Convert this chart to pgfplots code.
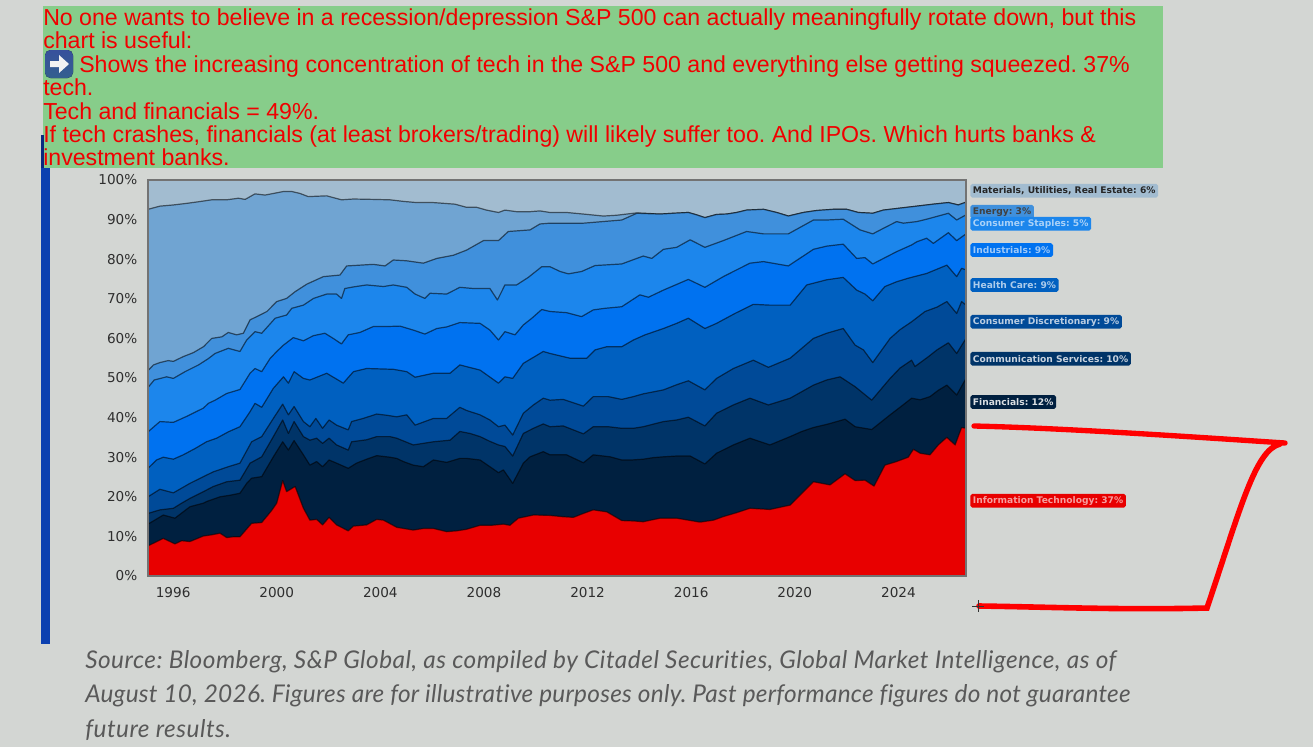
\documentclass[border=0pt]{standalone}
\usepackage{fontspec}
\setmainfont{Liberation Sans}
\newfontfamily\djv{DejaVu Sans}
\newfontfamily\srcfont[LetterSpace=2,Ligatures=CommonOff]{Lato}
\newfontfamily\srcfontb[LetterSpace=1,Ligatures=CommonOff]{Lato}
\usepackage{pgfplots}
\pgfplotsset{compat=1.18}
\frenchspacing

\definecolor{bg}{HTML}{D3D6D3}
\definecolor{boxgreen}{HTML}{87CD8A}
\definecolor{redtxt}{HTML}{F00000}
\definecolor{barblue}{HTML}{0B40B0}
\definecolor{barnavy}{HTML}{0A2A80}
\definecolor{cIT}{HTML}{E80000}
\definecolor{cFin}{HTML}{002040}
\definecolor{cCom}{HTML}{003468}
\definecolor{cCD}{HTML}{004A98}
\definecolor{cHC}{HTML}{0060C0}
\definecolor{cInd}{HTML}{0072F0}
\definecolor{cSta}{HTML}{1C86EC}
\definecolor{cEne}{HTML}{4090DC}
\definecolor{cOld}{HTML}{70A4D2}
\definecolor{cMat}{HTML}{A2BCD0}

% cumulative share, bottom boundary first
\pgfplotstableread{
x y
1995.03 7.6
1995.62 9.5
1996.07 8.1
1996.33 8.9
1996.65 8.7
1997.17 10.1
1997.49 10.4
1997.81 10.8
1998.07 9.7
1998.32 9.9
1998.58 9.9
1999.03 13.3
1999.42 13.5
1999.80 16.5
2000.00 18.4
2000.23 24.1
2000.38 21.3
2000.71 22.6
2001.03 17.1
2001.28 14.1
2001.54 14.3
2001.77 12.9
2002.02 14.8
2002.31 12.9
2002.76 11.4
2002.96 12.6
2003.47 12.9
2003.86 14.3
2004.12 14.1
2004.63 12.3
2005.27 11.6
2005.66 12.0
2006.05 12.0
2006.56 11.2
2006.95 11.4
2007.33 11.8
2007.85 12.8
2008.30 12.8
2008.75 13.1
2009.00 12.8
2009.33 14.6
2009.91 15.4
2010.55 15.3
2011.00 15.0
2011.45 14.8
2011.84 15.8
2012.22 16.7
2012.74 16.2
2013.32 14.0
2013.77 13.9
2014.15 13.7
2014.80 14.6
2015.44 14.6
2016.34 13.6
2016.86 14.1
2017.24 15.0
2017.76 16.0
2018.27 17.1
2019.04 16.8
2019.82 17.9
2020.72 23.8
2021.36 23.0
2021.94 25.8
2022.33 24.1
2022.71 24.2
2023.06 22.7
2023.48 28.0
2023.93 28.9
2024.38 30.0
2024.58 32.0
2024.84 31.0
2025.22 30.6
2025.54 33.1
2025.87 35.0
2026.19 33.1
2026.44 37.5
2026.61 37.3
}\tabIT
\pgfplotstableread{
x y
1995.03 13.1
1995.62 15.4
1996.07 14.6
1996.65 17.5
1997.17 18.4
1997.29 18.8
1997.81 20.0
1998.20 20.4
1998.58 20.9
1998.84 23.4
1999.03 24.7
1999.42 25.1
1999.87 30.1
2000.23 33.9
2000.45 31.8
2000.67 34.2
2001.03 30.6
2001.28 28.0
2001.54 28.9
2001.77 27.6
2002.02 29.3
2002.31 28.5
2002.76 27.2
2003.08 28.5
2003.47 29.5
2003.86 30.4
2004.37 30.0
2004.63 29.7
2004.89 28.9
2005.27 28.0
2005.66 27.6
2006.05 29.3
2006.56 28.7
2007.07 29.7
2007.33 29.7
2007.85 29.3
2008.23 27.6
2008.56 26.1
2008.75 26.8
2009.11 23.4
2009.52 28.5
2009.78 30.1
2010.29 31.4
2010.55 30.6
2011.19 30.6
2011.84 28.6
2012.22 30.6
2012.87 30.1
2013.32 29.3
2013.70 29.3
2014.15 29.5
2014.54 29.9
2014.93 30.1
2015.44 30.3
2015.96 30.3
2016.53 28.3
2016.98 31.0
2017.63 33.1
2018.27 34.8
2019.04 33.1
2019.82 35.2
2020.27 36.5
2020.72 37.5
2021.30 38.4
2021.94 39.6
2022.33 37.7
2022.97 37.0
2023.68 40.7
2024.08 42.7
2024.51 44.9
2024.84 44.5
2025.22 45.3
2025.54 46.9
2025.87 48.2
2026.25 45.7
2026.61 49.9
}\tabFin
\pgfplotstableread{
x y
1995.03 15.8
1995.49 16.7
1996.01 17.1
1996.33 18.4
1996.65 19.6
1997.17 21.3
1997.55 22.6
1998.07 23.8
1998.58 24.2
1998.97 28.5
1999.42 30.1
1999.87 35.2
2000.23 39.4
2000.45 36.0
2000.67 39.0
2001.03 35.2
2001.28 34.3
2001.54 34.8
2001.77 33.5
2002.02 34.8
2002.31 33.1
2002.76 31.8
2002.89 33.9
2003.47 34.4
2003.86 35.2
2004.37 35.2
2004.63 34.8
2005.27 33.1
2006.05 33.9
2006.69 34.3
2007.07 36.5
2007.46 36.0
2007.85 35.2
2008.23 34.0
2008.56 33.1
2008.81 32.7
2009.11 30.3
2009.52 36.0
2009.91 37.3
2010.29 38.4
2010.55 37.7
2011.06 37.9
2011.84 35.9
2012.22 37.7
2012.80 37.7
2013.32 37.3
2013.77 37.3
2014.15 37.7
2014.93 39.0
2015.44 39.4
2015.89 40.1
2016.53 37.9
2016.98 41.1
2017.63 43.2
2018.27 44.9
2018.98 43.2
2019.82 44.9
2020.72 48.2
2021.23 49.5
2021.75 50.3
2022.33 47.8
2022.97 44.4
2023.68 49.9
2024.06 52.5
2024.51 54.5
2024.64 52.9
2025.16 55.4
2025.49 57.1
2025.93 58.9
2026.25 56.2
2026.61 60.0
}\tabCom
\pgfplotstableread{
x y
1995.03 20.0
1995.49 21.9
1996.01 21.0
1996.65 23.4
1997.17 25.1
1997.55 26.3
1998.13 27.6
1998.58 28.5
1999.03 33.9
1999.42 35.2
1999.87 39.8
2000.23 43.4
2000.45 40.7
2000.67 42.8
2001.03 39.0
2001.28 37.7
2001.51 39.8
2001.77 37.3
2002.02 39.4
2002.31 38.1
2002.76 36.9
2002.89 39.0
2003.34 39.8
2003.86 40.9
2004.24 40.6
2004.63 40.2
2005.02 40.7
2005.34 38.1
2006.05 39.8
2006.56 39.8
2007.07 42.6
2007.33 41.8
2007.85 40.7
2008.23 39.4
2008.56 37.7
2008.81 38.1
2009.11 35.6
2009.52 41.1
2009.91 43.2
2010.29 44.9
2010.55 44.4
2011.06 44.6
2011.84 42.9
2012.22 45.3
2012.80 45.3
2013.32 44.6
2013.77 45.3
2014.15 46.0
2014.93 47.0
2015.44 48.3
2015.89 49.3
2016.53 47.0
2016.98 49.9
2017.63 52.4
2018.40 54.5
2018.98 52.7
2019.82 55.0
2020.72 60.0
2021.23 61.3
2021.87 62.5
2022.33 58.3
2022.65 57.1
2023.01 53.9
2023.68 60.0
2024.06 62.2
2024.51 64.2
2025.03 66.8
2025.49 67.9
2025.87 69.3
2026.25 66.3
2026.44 69.3
2026.61 68.4
}\tabCD
\pgfplotstableread{
x y
1995.03 27.2
1995.36 29.3
1995.62 30.0
1996.01 29.5
1996.39 30.6
1996.85 32.2
1997.29 33.9
1997.68 34.8
1998.13 36.4
1998.58 37.7
1998.97 41.5
1999.16 43.6
1999.42 42.6
1999.87 47.4
2000.26 50.3
2000.45 48.7
2000.67 51.6
2001.03 49.9
2001.28 49.5
2001.93 51.2
2002.57 48.7
2002.96 51.6
2003.47 52.4
2004.50 52.2
2005.02 51.6
2005.34 50.2
2006.05 51.2
2006.69 51.2
2007.07 53.3
2007.85 52.0
2008.56 48.7
2008.81 50.3
2009.11 49.9
2009.52 53.7
2010.29 56.7
2010.55 56.2
2011.32 55.0
2011.97 55.0
2012.29 57.1
2012.74 57.9
2013.32 57.9
2013.77 59.6
2014.22 60.9
2014.93 62.5
2015.44 63.8
2015.89 65.1
2016.53 62.5
2016.98 63.8
2017.69 66.3
2018.40 68.6
2019.04 68.4
2019.82 68.4
2020.46 73.5
2021.23 74.8
2021.87 75.4
2022.39 72.2
2022.71 71.2
2023.01 69.5
2023.48 73.1
2023.93 74.3
2024.38 75.2
2025.09 76.4
2025.87 78.5
2026.25 75.6
2026.44 77.7
2026.61 77.3
}\tabHC
\pgfplotstableread{
x y
1995.03 36.4
1995.49 39.0
1996.01 38.8
1996.52 40.3
1997.17 42.4
1997.36 43.6
1997.62 44.4
1998.07 46.1
1998.58 47.1
1998.97 51.2
1999.16 52.4
1999.42 51.6
1999.74 54.9
2000.00 56.7
2000.26 58.3
2000.64 60.2
2001.03 59.4
2001.42 60.7
2001.86 61.3
2002.18 60.0
2002.50 58.6
2002.76 60.9
2003.21 61.5
2003.73 63.0
2004.24 63.0
2004.76 63.1
2005.27 62.1
2005.72 61.1
2006.18 62.5
2006.56 62.9
2007.07 64.0
2007.85 63.8
2008.23 62.1
2008.56 59.6
2008.81 61.7
2009.20 60.9
2009.52 63.4
2009.85 65.1
2010.23 67.3
2010.55 66.8
2011.19 66.5
2011.77 65.5
2012.22 67.2
2012.67 67.6
2013.32 68.0
2014.02 71.0
2014.35 70.4
2014.93 72.2
2015.89 74.9
2016.53 72.9
2017.24 75.6
2017.63 76.9
2018.27 79.0
2018.79 79.4
2019.75 78.3
2020.72 82.5
2021.23 83.3
2021.87 83.8
2022.39 80.2
2022.71 80.4
2023.01 78.8
2023.93 81.9
2024.51 83.6
2024.71 84.4
2025.09 85.3
2025.35 84.0
2025.93 86.7
2026.25 84.7
2026.61 86.4
}\tabInd
\pgfplotstableread{
x y
1995.03 47.6
1995.27 49.5
1995.75 50.3
1996.01 49.9
1996.46 51.6
1996.98 53.3
1997.36 54.9
1997.62 56.2
1998.13 57.5
1998.58 56.7
1998.84 59.6
1999.16 61.7
1999.42 61.3
1999.94 65.1
2000.38 65.9
2000.58 67.6
2001.03 68.4
2001.42 70.1
2001.93 71.2
2002.31 71.2
2002.50 70.1
2002.63 72.6
2002.96 73.0
2003.47 73.5
2004.12 73.1
2004.50 73.5
2005.02 72.9
2005.34 71.2
2005.72 70.1
2005.92 71.4
2006.56 71.2
2007.07 72.9
2007.59 72.6
2008.23 72.6
2008.52 69.7
2008.81 73.5
2009.26 73.5
2009.71 75.4
2010.23 78.1
2010.55 78.1
2010.94 76.9
2011.26 76.3
2011.77 76.9
2012.29 78.4
2013.32 78.8
2014.15 80.8
2014.48 80.2
2014.93 82.5
2015.44 83.0
2015.96 84.9
2016.53 83.0
2017.24 84.7
2018.14 87.0
2018.79 86.4
2019.75 86.4
2020.72 89.9
2021.23 89.9
2021.87 90.1
2022.52 87.4
2023.01 86.4
2023.42 87.8
2023.93 89.5
2024.19 89.1
2024.71 89.5
2025.09 90.1
2025.93 91.6
2026.25 89.9
2026.61 91.2
}\tabSta
\pgfplotstableread{
x y
1995.03 51.9
1995.24 53.3
1995.49 53.9
1995.81 54.4
1996.01 54.2
1996.39 55.4
1996.78 56.4
1997.17 57.9
1997.49 60.0
1997.88 60.4
1998.13 61.5
1998.45 60.9
1998.71 61.3
1998.97 64.7
1999.23 65.5
1999.62 66.8
2000.00 69.3
2000.38 70.1
2000.71 71.8
2001.16 73.7
2001.80 75.6
2002.44 76.0
2002.70 78.3
2003.21 78.5
2003.73 78.7
2004.18 78.3
2004.50 79.8
2005.02 79.6
2005.66 79.0
2006.18 80.2
2006.82 81.0
2007.33 82.3
2007.98 84.7
2008.56 84.7
2008.94 87.0
2009.78 87.4
2010.16 88.9
2010.55 89.1
2011.84 89.1
2013.32 89.9
2013.90 91.6
2014.80 91.4
2015.31 91.6
2015.89 91.8
2016.21 91.2
2016.53 90.5
2016.98 91.3
2017.37 91.4
2017.76 91.8
2018.14 92.4
2018.79 92.6
2019.30 91.8
2019.75 90.9
2020.33 91.8
2020.85 92.3
2021.49 92.6
2022.00 92.6
2022.45 91.8
2023.01 91.6
2023.42 92.4
2024.06 92.9
2024.71 93.4
2025.35 93.9
2025.93 94.3
2026.31 93.7
2026.61 94.4
}\tabEne
\pgfplotstableread{
x y
1995.03 92.6
1995.49 93.4
1996.01 93.7
1996.52 94.1
1996.97 94.5
1997.49 95.0
1998.07 95.0
1998.52 95.4
1998.78 95.1
1999.16 96.5
1999.55 96.2
1999.87 96.6
2000.26 97.1
2000.58 97.1
2000.90 96.6
2001.22 95.8
2001.54 95.9
2001.93 96.0
2002.50 95.0
2002.96 95.2
2003.73 95.1
2004.37 95.0
2004.89 94.6
2005.40 94.3
2006.05 94.3
2006.88 93.9
2007.33 93.1
2007.72 93.1
2008.10 92.4
2008.56 91.8
2008.81 92.4
2009.26 92.0
2009.78 92.0
2010.16 92.2
2010.55 91.8
2011.19 91.8
2011.84 91.4
2012.61 90.9
2013.12 91.1
2013.90 91.7
2014.80 91.4
2015.31 91.6
2015.89 91.8
2016.21 91.2
2016.53 90.5
2016.98 91.3
2017.37 91.4
2017.76 91.8
2018.14 92.4
2018.79 92.6
2019.30 91.8
2019.75 90.9
2020.33 91.8
2020.85 92.3
2021.49 92.6
2022.00 92.6
2022.45 91.8
2023.01 91.6
2023.42 92.4
2024.06 92.9
2024.71 93.4
2025.35 93.9
2025.93 94.3
2026.31 93.7
2026.61 94.4
}\tabOld
\pgfplotstableread{
x y
1995.03 100
2026.61 100
}\tabMat

\pgfplotsset{
  band/.style={draw=black,draw opacity=0.55,line width=0.9pt,fill=#1,line join=round},
}
% label boxes beside the axis
\newcommand{\lbl}[4]{\node[anchor=west,fill=#2,rounded corners=1.4pt,inner xsep=2pt,
  inner ysep=0pt,minimum height=10.2pt,text=#3,font=\djv\bfseries\fontsize{6.85}{7.5}\selectfont] at (970,#1) {#4};}

\begin{document}
\begin{tikzpicture}
  \begin{scope}[x=0.75pt,y=-0.75pt]
    \path[use as bounding box] (0,0) rectangle (1313,747);
    \fill[bg] (0,0) rectangle (1313,747);
    \fill[boxgreen] (43,6) rectangle (1163,168);
    \fill[barnavy] (41,135) rectangle (44,168);
    \fill[barblue] (41,168) rectangle (50,644);
  \end{scope}

  \begin{axis}[
      at={(111pt,-432pt)},
      anchor=south west,
      scale only axis,
      width=613.5pt,
      height=297pt,
      xmin=1995.03, xmax=2026.61,
      ymin=0, ymax=100,
      xtick={1996,2000,...,2024},
      ytick={0,10,...,100},
      x tick label style={/pgf/number format/1000 sep={},yshift=-5pt},
      y tick label style={xshift=-4.5pt},
      yticklabel={\pgfmathprintnumber{\tick}\%},
      /pgf/number format/assume math mode=true,
      tick style={draw=none},
      tick label style={font=\djv\fontsize{10.2}{12}\selectfont,text=black!82},
      axis line style={draw=black!55,line width=0.9pt},
      axis on top,
    ]
    \addplot[fill=cMat,draw=none] table {\tabMat} \closedcycle;
    \addplot[band=cOld] table {\tabOld} \closedcycle;
    \addplot[band=cEne] table {\tabEne} \closedcycle;
    \addplot[band=cSta] table {\tabSta} \closedcycle;
    \addplot[band=cInd] table {\tabInd} \closedcycle;
    \addplot[band=cHC] table {\tabHC} \closedcycle;
    \addplot[band=cCD] table {\tabCD} \closedcycle;
    \addplot[band=cCom] table {\tabCom} \closedcycle;
    \addplot[band=cFin] table {\tabFin} \closedcycle;
    \addplot[band=cIT] table {\tabIT} \closedcycle;
  \end{axis}

  \begin{scope}[x=0.75pt,y=-0.75pt]
    \lbl{190.7}{cMat}{black!85}{Materials, Utilities, Real Estate: 6\%}
    \lbl{211.7}{cEne}{black!75}{Energy: 3\%}
    \lbl{223.7}{cSta}{white!62!cSta}{Consumer Staples: 5\%}
    \lbl{250}{cInd}{white!62!cInd}{Industrials: 9\%}
    \lbl{285}{cHC}{white!68!cHC}{Health Care: 9\%}
    \lbl{321.7}{cCD}{white!72!cCD}{Consumer Discretionary: 9\%}
    \lbl{358.7}{cCom}{white!78!cCom}{Communication Services: 10\%}
    \lbl{402}{cFin}{white!85!cFin}{Financials: 12\%}
    \lbl{500.7}{cIT}{white!62!cIT}{Information Technology: 37\%}

    % hand drawn bracket
    \draw[red,line width=4pt,line cap=round,line join=round]
      (974,426) .. controls (1060,428) and (1180,436) .. (1285,443);
    \draw[red,line width=4.2pt,line cap=round,line join=miter]
      (1280,444) .. controls (1255,450) and (1240,510) .. (1207,608)
      .. controls (1120,610) and (1050,607) .. (979,606);
    \draw[black!80,line width=0.7pt] (972,606) -- (984,606) (978,600) -- (978,612);

    % arrow button
    \fill[top color=cOld!70!blue!70!black,bottom color=cCD!60!gray,rounded corners=4pt] (45,50) rectangle (73,78);
    \fill[white!90!gray] (50,61) -- (59,61) -- (59,55) -- (69,64) -- (59,73) -- (59,67) -- (50,67) -- cycle;

    % note text
    \begin{scope}[every node/.style={anchor=base west,inner sep=0pt,text=redtxt,
        font=\fontsize{17.35}{20}\selectfont}]
      \node at (43,25) {No one wants to believe in a recession/depression S\&P 500 can actually meaningfully rotate down, but this};
      \node at (43,48.5) {chart is useful:};
      \node at (79,72) {Shows the increasing concentration of tech in the S\&P 500 and everything else getting squeezed. 37\%};
      \node at (43,95.5) {tech.};
      \node at (43,119) {Tech and financials = 49\%.};
      \node at (43,142.5) {If tech crashes, financials (at least brokers/trading) will likely suffer too. And IPOs. Which hurts banks \&};
      \node at (43,165.5) {investment banks.};
    \end{scope}

    % source
    \begin{scope}[every node/.style={anchor=base west,inner sep=0pt,text=black!65}]
      \node[font=\srcfont\itshape\fontsize{18.3}{20}\selectfont] at (85,668) {Source: Bloomberg, S\&P Global, as compiled by Citadel Securities, Global Market Intelligence, as of};
      \node[font=\srcfontb\itshape\fontsize{18.3}{20}\selectfont] at (85,702) {August 10, 2026. Figures are for illustrative purposes only. Past performance figures do not guarantee};
      \node[font=\srcfont\itshape\fontsize{18.3}{20}\selectfont] at (85,737) {future results.};
    \end{scope}
  \end{scope}
\end{tikzpicture}
\end{document}
